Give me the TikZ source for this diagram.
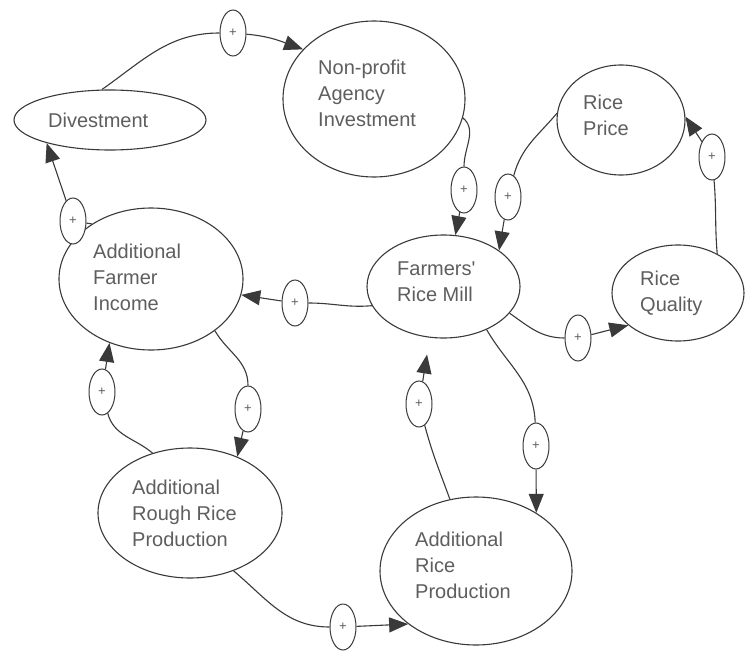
\documentclass[tikz,border=0pt]{standalone}
\usepackage{fontspec}
\setmainfont{Liberation Sans}[Ligatures=TeXOff]
\usetikzlibrary{shapes.geometric,arrows.meta}
\definecolor{linec}{HTML}{3A3A3A}
\definecolor{txtc}{HTML}{5E5E5E}
\tikzset{
  ell/.style={ellipse, draw=linec, line width=1.1pt, inner sep=0pt},
  pl/.style={ellipse, draw=linec, line width=1pt, inner sep=0pt,
    minimum width=26pt, minimum height=46pt, fill=white, text=txtc,
    font=\fontsize{13}{13}\selectfont},
  lbl/.style={anchor=west, align=left, inner sep=0pt, text=txtc,
    font=\fontsize{20}{26}\selectfont},
  conn/.style={draw=linec, line width=1.1pt},
  arr/.style={conn, -{Triangle[length=19pt,width=15pt]}},
}
\begin{document}
\begin{tikzpicture}[x=1pt,y=1pt]
\useasboundingbox (0,0) rectangle (746,-650);
\fill[white] (0,0) rectangle (746,-650);

% main ellipses
\node[ell, minimum width=192pt, minimum height=60pt]  (div)  at (110,-120) {};
\node[ell, minimum width=182pt, minimum height=156pt] (np)   at (374,-99) {};
\node[ell, minimum width=128pt, minimum height=110pt] (rp)   at (621,-120) {};
\node[ell, minimum width=132pt, minimum height=96pt]  (rq)   at (678,-293) {};
\node[ell, minimum width=153pt, minimum height=103pt] (fm)   at (443.5,-286.5) {};
\node[ell, minimum width=184pt, minimum height=142pt] (afi)  at (151,-279) {};
\node[ell, minimum width=184pt, minimum height=130pt] (arrp) at (190,-513) {};
\node[ell, minimum width=192pt, minimum height=148pt] (arp)  at (476,-571) {};

% labels
\node[lbl] (tdiv)  at (48,-120)  {Divestment};
\node[lbl] (tnp)   at (318,-93)  {Non-profit\\Agency\\Investment};
\node[lbl] (trp)   at (583,-115) {Rice\\Price};
\node[lbl] (trq)   at (640,-293) {Rice\\Quality};
\node[lbl] (tfm)   at (397,-281.5) {Farmers'\\Rice Mill};
\node[lbl] (tafi)  at (93,-277)  {Additional\\Farmer\\Income};
\node[lbl] (tarrp) at (132,-513) {Additional\\Rough Rice\\Production};
\node[lbl] (tarp)  at (415,-565) {Additional\\Rice\\Production};

% polarity ovals
\node[pl] (p1)  at (233,-33)  {+};
\node[pl] (p2)  at (464,-190) {+};
\node[pl] (p3)  at (508,-197) {+};
\node[pl] (p4)  at (712,-157) {+};
\node[pl] (p5)  at (578,-338) {+};
\node[pl] (p6)  at (295,-303) {+};
\node[pl] (p7)  at (73,-221)  {+};
\node[pl] (p8)  at (248,-409) {+};
\node[pl] (p9)  at (102,-392) {+};
\node[pl] (p10) at (343,-627) {+};
\node[pl] (p11) at (419,-404) {+};
\node[pl] (p12) at (536,-446) {+};

% connectors
\draw[conn] (div.105) to[out=35,in=180] (p1);
\draw[arr]  (p1) to[out=-5,in=160] (np.145);

\draw[conn] (np.-12) to[out=-40,in=90] (p2);
\draw[arr]  (p2) -- (fm.77);

\draw[conn] (rp.174) to[out=230,in=75] (p3);
\draw[arr]  (p3) -- (fm.33);

\draw[conn] (rq.45) to[out=95,in=-85] (p4);
\draw[arr]  (p4) -- (rp.3);

\draw[conn] (fm.-22) to[out=-35,in=180] (p5);
\draw[arr]  (p5) -- (rq.213);

\draw[conn] (fm.195) to[out=185,in=0] (p6);
\draw[arr]  (p6) -- (afi.-10);

\draw[conn] (afi.137) -- (p7);
\draw[arr]  (p7) -- (div.200);

\draw[conn] (afi.-39) to[out=-60,in=90] (p8);
\draw[arr]  (p8) -- (arrp.50);

\draw[conn] (arrp.122) to[out=140,in=-75] (p9);
\draw[arr]  (p9) -- (afi.237);

\draw[conn] (arrp.-53) to[out=-40,in=180] (p10);
\draw[arr]  (p10) -- (arp.218);

\draw[conn] (arp.110) to[out=110,in=-75] (p11);
\draw[arr, shorten >=17pt] (p11) -- (fm.255);

\draw[conn] (fm.-45) to[out=-60,in=92] (p12);
\draw[arr]  (p12) -- (arp.44);
\end{tikzpicture}
\end{document}
